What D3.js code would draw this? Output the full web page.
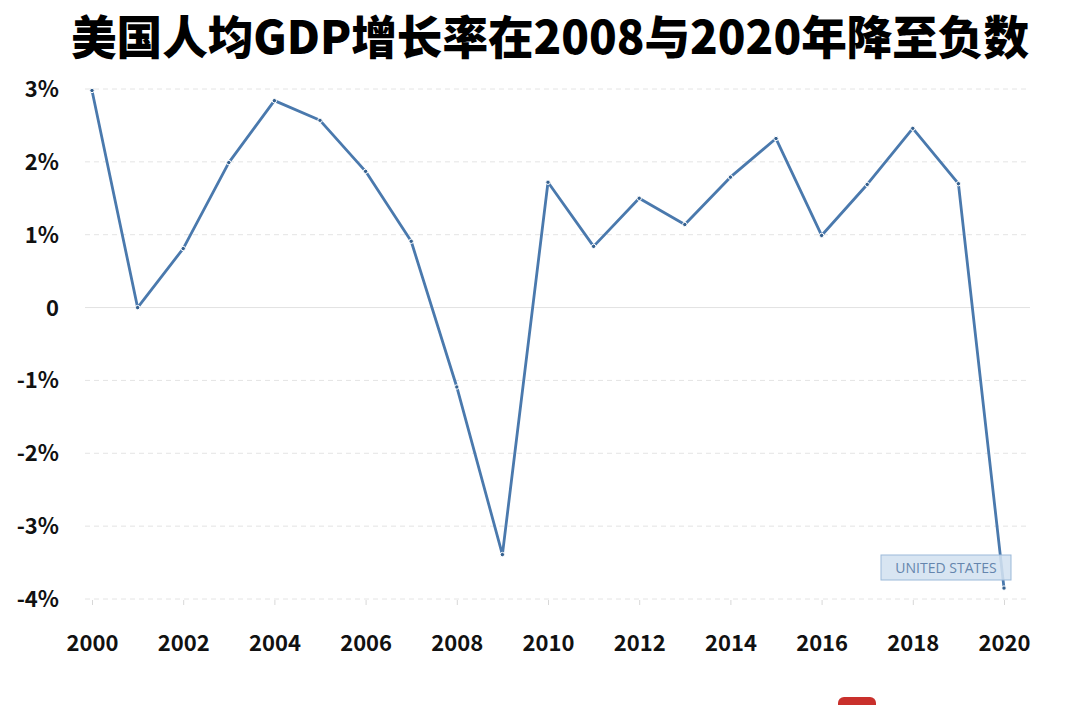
<!DOCTYPE html>
<html>
<head>
<meta charset="utf-8">
<script src="https://cdn.jsdelivr.net/npm/d3@7"></script>
<style>
  body { margin: 0; background: #fff; }
  svg { display: block; font-family: "Noto Sans CJK SC", "Noto Sans", sans-serif; }
</style>
</head>
<body>
<svg id="chart"></svg>
<script>
// data
let years = [2000, 2001, 2002, 2003, 2004, 2005, 2006, 2007, 2008, 2009, 2010,
  2011, 2012, 2013, 2014, 2015, 2016, 2017, 2018, 2019, 2020];
let growth = [2.98, 0.0, 0.81, 1.99, 2.84, 2.57, 1.87, 0.91, -1.09, -3.39, 1.72,
  0.84, 1.50, 1.14, 1.79, 2.32, 0.99, 1.69, 2.46, 1.70, -3.85];
let yTicks = [3, 2, 1, 0, -1, -2, -3, -4];
let xTicks = [2000, 2002, 2004, 2006, 2008, 2010, 2012, 2014, 2016, 2018, 2020];
let titleText = "美国人均GDP增长率在2008与2020年降至负数";
let legendText = "UNITED STATES";

let width = 1080;
let height = 705;

let chart = d3.select("#chart").attr("width", width).attr("height", height);

let x = d3.scaleLinear().domain([2000, 2020]).range([92, 1004]);
let y = d3.scaleLinear().domain([-4, 3]).range([599, 89]);

// title
chart.append("text")
  .attr("x", 550)
  .attr("y", 54)
  .attr("text-anchor", "middle")
  .attr("font-size", 46)
  .attr("font-weight", 900)
  .attr("fill", "#000")
  .attr("textLength", 958)
  .attr("lengthAdjust", "spacingAndGlyphs")
  .text(titleText);

// grid lines
chart.selectAll(".grid")
  .data(yTicks)
  .enter()
  .append("line")
  .attr("class", "grid")
  .attr("x1", 85)
  .attr("x2", 1030)
  .attr("y1", (d) => y(d))
  .attr("y2", (d) => y(d))
  .attr("stroke", (d) => (d == 0 ? "#e2e2e2" : "#e4e4e4"))
  .attr("stroke-width", 1)
  .attr("stroke-dasharray", (d) => (d == 0 ? null : "5,4"));

// y labels
chart.selectAll(".ylab")
  .data(yTicks)
  .enter()
  .append("text")
  .attr("class", "ylab")
  .attr("x", 59)
  .attr("y", (d) => y(d) + 8)
  .attr("text-anchor", "end")
  .attr("font-size", 22)
  .attr("font-weight", 700)
  .attr("fill", "#111")
  .text((d) => (d == 0 ? "0" : d + "%"));

// x axis ticks + labels
let xAxis = d3.axisBottom(x)
  .tickValues(xTicks)
  .tickSize(5)
  .tickFormat(d3.format("d"));

let gx = chart.append("g")
  .attr("transform", `translate(0,${y(-4) + 1})`)
  .call(xAxis);
gx.select(".domain").remove();
gx.selectAll(".tick line").attr("stroke", "#d8d8d8");
gx.selectAll(".tick text")
  .attr("y", 35)
  .attr("font-size", 22)
  .attr("font-weight", 700)
  .attr("font-family", "'Noto Sans CJK SC', 'Noto Sans', sans-serif")
  .attr("fill", "#111");

// the line
let pts = years.map((yr, i) => [yr, growth[i]]);
let line = d3.line()
  .x((d) => x(d[0]))
  .y((d) => y(d[1]));

chart.append("path")
  .datum(pts)
  .attr("d", line)
  .attr("fill", "none")
  .attr("stroke", "#4a79ad")
  .attr("stroke-width", 2.8)
  .attr("stroke-linejoin", "round");

chart.selectAll(".dot")
  .data(pts)
  .enter()
  .append("circle")
  .attr("class", "dot")
  .attr("cx", (d) => x(d[0]))
  .attr("cy", (d) => y(d[1]))
  .attr("r", 2.2)
  .attr("fill", "#36618f")
  .attr("stroke", "#fff")
  .attr("stroke-width", 1);

// legend box
let legend = chart.append("g").attr("transform", "translate(881,555)");
legend.append("rect")
  .attr("width", 130)
  .attr("height", 25)
  .attr("fill", "#d3e1f0")
  .attr("fill-opacity", 0.88)
  .attr("stroke", "#9bb9d9")
  .attr("stroke-width", 1);
legend.append("text")
  .attr("x", 65)
  .attr("y", 18)
  .attr("text-anchor", "middle")
  .attr("font-size", 14)
  .attr("font-family", "'Open Sans', 'Noto Sans', sans-serif")
  .attr("fill", "#6585ad")
  .text(legendText);

// watermark fragment at the bottom edge
chart.append("rect")
  .attr("x", 838)
  .attr("y", 697)
  .attr("width", 38)
  .attr("height", 30)
  .attr("rx", 6)
  .attr("fill", "#c9302c");
</script>
</body>
</html>
